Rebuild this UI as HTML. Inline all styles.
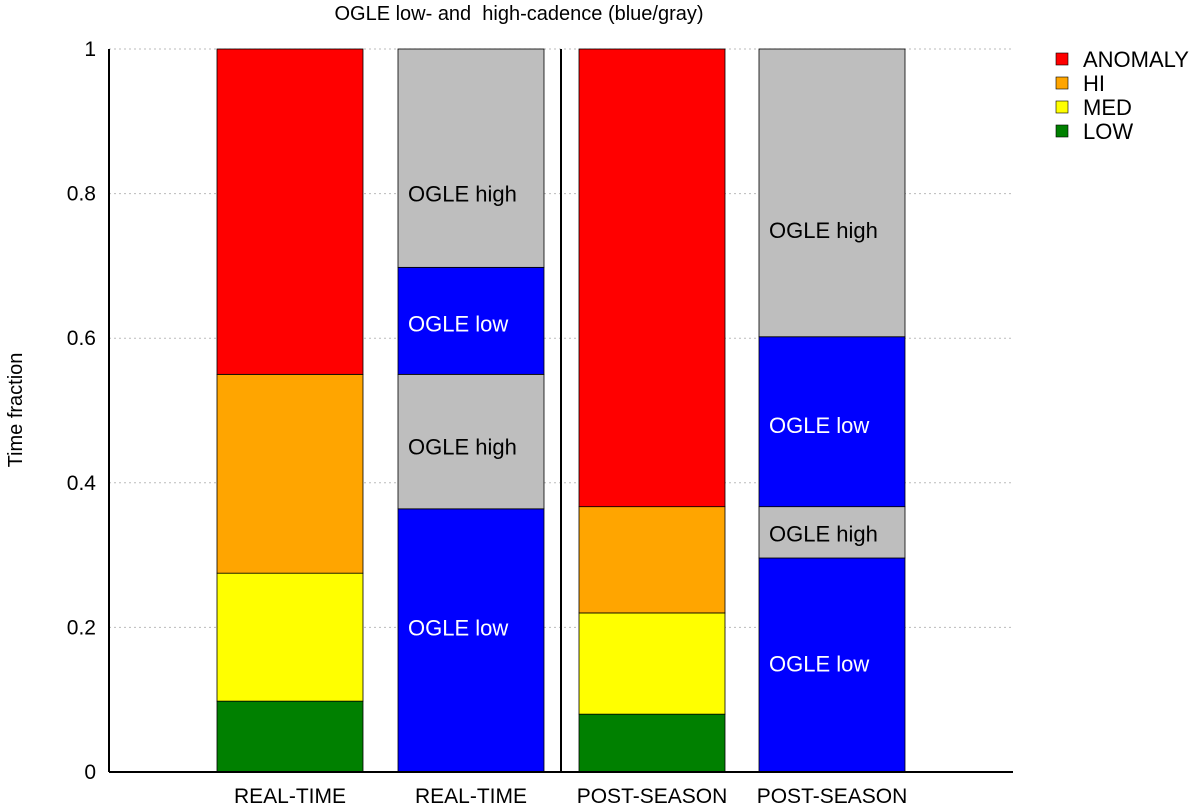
<!DOCTYPE html>
<html><head><meta charset="utf-8"><style>
body{margin:0;background:#fff;}
svg{display:block;font-family:"Liberation Sans",sans-serif;}
</style></head><body>
<svg id="chart" width="1200" height="807">
<text x="519" y="20" text-anchor="middle" font-size="20" style="white-space:pre">OGLE low- and  high-cadence (blue/gray)</text>
<text transform="translate(22,410) rotate(-90)" text-anchor="middle" font-size="20">Time fraction</text>
<g id="grid"></g><g id="bars"></g>
<line x1="109" y1="49" x2="109" y2="772" stroke="#000" stroke-width="2"/>
<line x1="109" y1="772" x2="1013" y2="772" stroke="#000" stroke-width="2"/>
<line x1="561" y1="49" x2="561" y2="772" stroke="#000" stroke-width="2"/>
<g id="legend"></g>
</svg>
<script>
const categories=["REAL-TIME","REAL-TIME","POST-SEASON","POST-SEASON"];
const bar1=[0.098,0.177,0.275,0.45];
const bar2=[0.364,0.186,0.148,0.302];
const bar3=[0.080,0.140,0.147,0.633];
const bar4=[0.296,0.071,0.235,0.398];
const labelPos2=[0.2,0.45,0.62,0.8];
const labelPos4=[0.15,0.33,0.48,0.75];
const colorsA=["#008000","#ffff00","#ffa500","#ff0000"];
const colorsB=["#0000ff","#bebebe","#0000ff","#bebebe"];
const labelsB=["OGLE low","OGLE high","OGLE low","OGLE high"];
const yTicks=[0,0.2,0.4,0.6,0.8,1];
const tickLabels=["0","0.2","0.4","0.6","0.8","1"];
const legendNames=["ANOMALY","HI","MED","LOW"];
const legendColors=["#ff0000","#ffa500","#ffff00","#008000"];
const NS="http://www.w3.org/2000/svg";
const y=v=>772-v*723;
const xLeft=[217,398,579,759],bw=146;
function mk(t,a,p){const e=document.createElementNS(NS,t);for(const k in a)e.setAttribute(k,a[k]);p.appendChild(e);return e;}
const grid=document.getElementById('grid');
yTicks.forEach((t,i)=>{
 if(t>0){const l=mk('line',{x1:109,x2:1013,y1:y(t),y2:y(t),stroke:'#bbb','stroke-dasharray':'2,3'},grid);
 
 }
 const tx=mk('text',{x:96,y:y(t)+7,'text-anchor':'end','font-size':21},grid);tx.textContent=tickLabels[i];
 
 
});
const bars=document.getElementById('bars');
[bar1,bar2,bar3,bar4].forEach((vals,bi)=>{
 let acc=0;const isB=bi%2==1;
 const lp=bi==1?labelPos2:labelPos4;
 vals.forEach((v,si)=>{
  const r=mk('rect',{x:xLeft[bi],y:y(acc+v),width:bw,height:v*723,fill:isB?colorsB[si]:colorsA[si],stroke:'#000','stroke-width':0.8},bars);
  
  
  if(isB){const t=mk('text',{x:xLeft[bi]+10,y:y(lp[si])+8,'font-size':22,fill:colorsB[si]=="#0000ff"?'#fff':'#000'},bars);t.textContent=labelsB[si];
   
   }
  acc+=v;
 });
 const c=mk('text',{x:xLeft[bi]+bw/2,y:803,'text-anchor':'middle','font-size':21},bars);c.textContent=categories[bi];
 
 
});
const lg=document.getElementById('legend');
legendNames.forEach((n,i)=>{
 const yy=59+i*24;
 const r=mk('rect',{x:1056,y:yy-6,width:12,height:12,fill:legendColors[i],stroke:'#000','stroke-width':0.6},lg);
 
 
 const t=mk('text',{x:1083,y:yy+8,'font-size':22},lg);t.textContent=n;
 
 
});
</script>
</body></html>
